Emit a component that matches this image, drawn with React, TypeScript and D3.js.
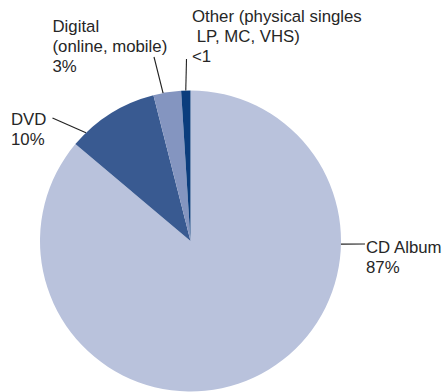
import React from "react";
import * as d3 from "d3";

const categories = ["CD Album", "DVD", "Digital", "Other"];
const values = [87, 10, 3, 1];
const colors = ["#b9c2dc", "#395a91", "#8495c0", "#0b3d7d"];
const labelLines = [
  ["CD Album", "87%"],
  ["DVD", "10%"],
  ["Digital", "(online, mobile)", "3%"],
  ["Other (physical singles", " LP, MC, VHS)", "<1"],
];

const W = 442;
const H = 392;
const cx = 190.5;
const cy = 241;
const R = 150.5;

// label layout: anchor angle (deg clockwise from top) on the rim, line end, text position
const layout = [
  { angle: 91.2, end: [365, 244], tx: 366, ty: 253 },
  { angle: 316, end: [52.5, 118], tx: 11, ty: 125 },
  { angle: 349.5, end: [154, 57], tx: 52.5, ty: 32 },
  { angle: 358.2, end: [186.5, 59], tx: 192, ty: 22 },
];

export default function App() {
  const pie = d3.pie<number>().sort(null).value((d) => d);
  const arcs = pie(values);
  const arc = d3.arc<d3.PieArcDatum<number>>().innerRadius(0).outerRadius(R);
  return (
    <svg
      width={W}
      height={H}
      style={{ position: "absolute", left: 0, top: 0, background: "#fff" }}
      fontFamily="'Liberation Sans', Arial, sans-serif"
    >
      <g transform={`translate(${cx},${cy})`}>
        {arcs.map((a, i) => (
          <path key={categories[i]} d={arc(a) || ""} fill={colors[i]} />
        ))}
      </g>
      {layout.map((l, i) => {
        const rad = (l.angle * Math.PI) / 180;
        const x0 = cx + R * Math.sin(rad);
        const y0 = cy - R * Math.cos(rad);
        return (
          <g key={"lab" + i}>
            <line x1={x0} y1={y0} x2={l.end[0]} y2={l.end[1]} stroke="#222" strokeWidth={1.1} />
            <text x={l.tx} y={l.ty} fontSize={16.8} fill="#262626" style={{ whiteSpace: "pre" }}>
              {labelLines[i].map((s, j) => (
                <tspan key={j} x={l.tx} y={l.ty + j * 20}>
                  {s}
                </tspan>
              ))}
            </text>
          </g>
        );
      })}
    </svg>
  );
}
